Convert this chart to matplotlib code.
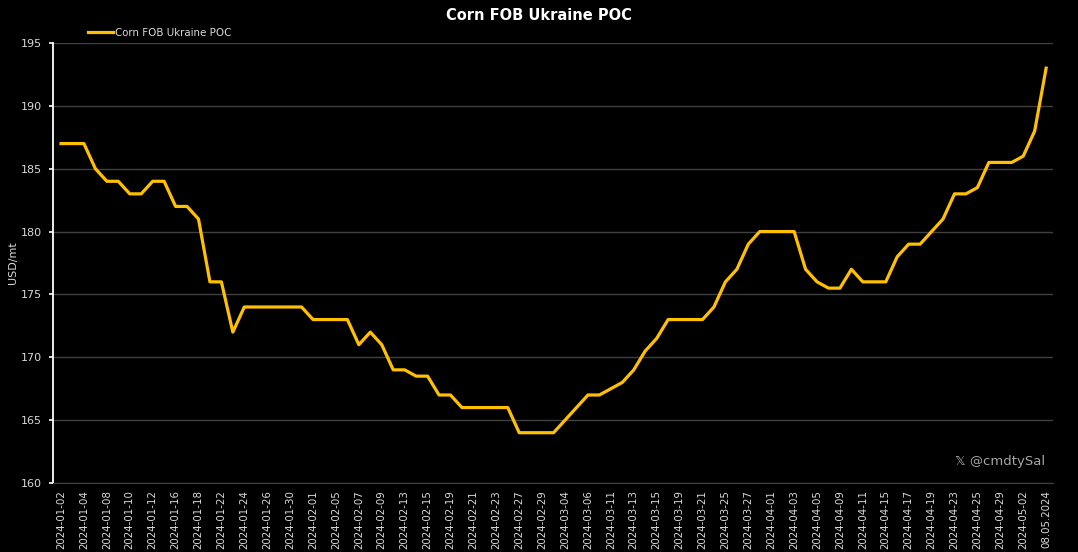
import matplotlib
matplotlib.use("Agg")
import matplotlib.pyplot as plt

dates = [
    "2024-01-02", "2024-01-03", "2024-01-04", "2024-01-05", "2024-01-08", "2024-01-09",
    "2024-01-10", "2024-01-11", "2024-01-12", "2024-01-15", "2024-01-16", "2024-01-17",
    "2024-01-18", "2024-01-19", "2024-01-22", "2024-01-23", "2024-01-24", "2024-01-25",
    "2024-01-26", "2024-01-29", "2024-01-30", "2024-01-31", "2024-02-01", "2024-02-02",
    "2024-02-05", "2024-02-06", "2024-02-07", "2024-02-08", "2024-02-09", "2024-02-12",
    "2024-02-13", "2024-02-14", "2024-02-15", "2024-02-16", "2024-02-19", "2024-02-20",
    "2024-02-21", "2024-02-22", "2024-02-23", "2024-02-26", "2024-02-27", "2024-02-28",
    "2024-02-29", "2024-03-01", "2024-03-04", "2024-03-05", "2024-03-06", "2024-03-07",
    "2024-03-11", "2024-03-12", "2024-03-13", "2024-03-14", "2024-03-15", "2024-03-18",
    "2024-03-19", "2024-03-20", "2024-03-21", "2024-03-22", "2024-03-25", "2024-03-26",
    "2024-03-27", "2024-03-28", "2024-04-01", "2024-04-02", "2024-04-03", "2024-04-04",
    "2024-04-05", "2024-04-08", "2024-04-09", "2024-04-10", "2024-04-11", "2024-04-12",
    "2024-04-15", "2024-04-16", "2024-04-17", "2024-04-18", "2024-04-19", "2024-04-22",
    "2024-04-23", "2024-04-24", "2024-04-25", "2024-04-26", "2024-04-29", "2024-04-30",
    "2024-05-02", "2024-05-03", "08.05.2024",
]

price = [
    187, 187, 187, 185, 184, 184, 183, 183, 184, 184, 182, 182,
    181, 176, 176, 172, 174, 174, 174, 174, 174, 174, 173, 173,
    173, 173, 171, 172, 171, 169, 169, 168.5, 168.5, 167, 167, 166,
    166, 166, 166, 166, 164, 164, 164, 164, 165, 166, 167, 167,
    167.5, 168, 169, 170.5, 171.5, 173, 173, 173, 173, 174, 176, 177,
    179, 180, 180, 180, 180, 177, 176, 175.5, 175.5, 177, 176, 176,
    176, 178, 179, 179, 180, 181, 183, 183, 183.5, 185.5, 185.5, 185.5,
    186, 188, 193,
]

yticks = [160, 165, 170, 175, 180, 185, 190, 195]

plt.rcParams["font.family"] = ["DejaVu Sans"]

fig = plt.figure(figsize=(10.78, 5.52), dpi=100, facecolor="black")
ax = fig.add_axes([53 / 1078, 1 - 483 / 552, (1053 - 53) / 1078, (483 - 43) / 552])
ax.set_facecolor("black")

x = list(range(len(dates)))
ax.plot(x, price, color="#FFC000", lw=2.3, label="Corn FOB Ukraine POC")

ax.set_xlim(-0.7, len(dates) - 0.4)
ax.set_ylim(160, 195)
ax.set_yticks(yticks)
ax.set_xticks(x[::2])
ax.set_xticklabels(dates[::2], rotation=90, fontsize=7.4, color="#d9d9d9")
ax.tick_params(axis="y", labelsize=8, colors="#d9d9d9", length=3, width=1.2,
               color="white", pad=5)
ax.tick_params(axis="x", length=0, pad=5)

ax.grid(axis="y", color="#404040", lw=1)
ax.set_axisbelow(True)
for side in ["top", "right"]:
    ax.spines[side].set_visible(False)
ax.spines["bottom"].set_color("#404040")
ax.spines["left"].set_color("white")
ax.spines["left"].set_linewidth(1.3)

fig.text(13 / 1078, 1 - 263 / 552, "USD/mt", rotation=90, ha="center", va="center",
         color="#d9d9d9", fontsize=8)
fig.text(0.5, 1 - 16 / 552, "Corn FOB Ukraine POC", ha="center", va="center",
         color="white", fontsize=10.5, fontweight="bold")

leg = ax.legend(loc="lower left", bbox_to_anchor=(0.03, 1.0), frameon=False,
                fontsize=7.4, handlelength=2.4, handletextpad=0.25, borderaxespad=0.1)
for t in leg.get_texts():
    t.set_color("#d9d9d9")

ax.text(0.992, 0.035, "\U0001D54F @cmdtySal", transform=ax.transAxes, ha="right", va="bottom",
        color="#a6a6a6", fontsize=9.5)

fig.savefig("out.png", dpi=100, facecolor="black")
